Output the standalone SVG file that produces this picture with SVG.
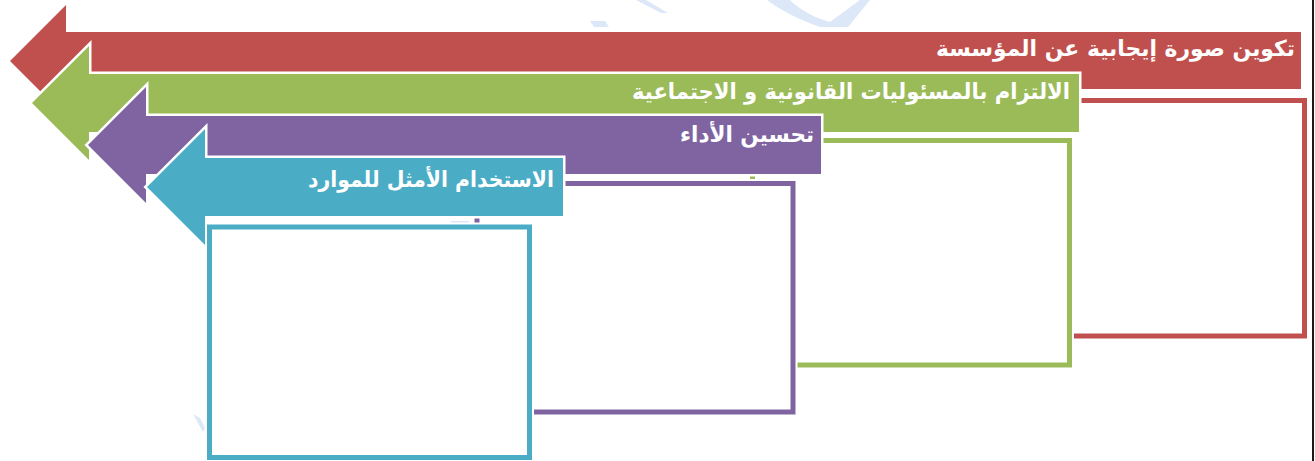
<svg xmlns="http://www.w3.org/2000/svg" width="1315" height="461" viewBox="0 0 1315 461">
<style>
.halo{fill:none;stroke:#ffffff;stroke-width:5;stroke-linejoin:miter}
.boxhalo{fill:#ffffff;stroke:#ffffff;stroke-width:9}
.box{fill:#ffffff;stroke-width:5}
.lbl{font-family:"DejaVu Sans","Noto Sans",sans-serif;font-weight:bold;font-size:22px;fill:#ffffff;text-anchor:end}
.wm{fill:#dce8f7}
</style>
<rect x="0" y="0" width="1315" height="461" fill="#ffffff"/>
<g id="watermark">
<polygon class="wm" points="590,21 605,21 609,27 594,27"/>
<polygon class="wm" points="636,0 646,0 668,13 661,13"/>
<path class="wm" d="M767,0 L790,0 C800,10 815,18 830,22 L860,0 L870,0 L848,27 L820,27 C800,20 780,10 767,0 Z"/>
<polygon class="wm" points="193,414 200,418 205,428 203,432"/>
<rect class="wm" x="451" y="221" width="18" height="3"/>
</g>
<g id="node-red">
<polygon class="halo" points="10,61 66,5 66,32 1301,32 1301,89 66,89 66,117"/>
<polygon fill="#C0504D" points="10,61 66,5 66,32 1301,32 1301,89 66,89 66,117"/>
<rect class="boxhalo" x="800" y="100.5" width="504.5" height="235.5"/>
<rect class="box" stroke="#C0504D" x="800" y="100.5" width="504.5" height="235.5"/>
<text class="lbl" x="1295" y="56" textLength="359" lengthAdjust="spacingAndGlyphs">تكوين صورة إيجابية عن المؤسسة</text>
</g>
<g id="node-green">
<polygon class="halo" points="32,103 89,46 89,74 1079,74 1079,132 89,132 89,160"/>
<polygon fill="#9BBB59" points="32,103 89,46 89,74 1079,74 1079,132 89,132 89,160"/>
<rect class="boxhalo" x="752.5" y="140.5" width="317" height="224.5"/>
<rect class="box" stroke="#9BBB59" x="752.5" y="140.5" width="317" height="224.5"/>
<text class="lbl" x="1070" y="99" textLength="438" lengthAdjust="spacingAndGlyphs">الالتزام بالمسئوليات القانونية و الاجتماعية</text>
</g>
<g id="node-purple">
<polygon class="halo" points="88,145 146,87 146,116 821,116 821,174 146,174 146,203"/>
<polygon fill="#8064A2" points="88,145 146,87 146,116 821,116 821,174 146,174 146,203"/>
<rect class="boxhalo" x="477" y="183.5" width="316" height="228.5"/>
<rect class="box" stroke="#8064A2" x="477" y="183.5" width="316" height="228.5"/>
<text class="lbl" x="814" y="142" textLength="134" lengthAdjust="spacingAndGlyphs">تحسين الأداء</text>
</g>
<g id="node-blue">
<polygon class="halo" points="147,187 205,129 205,158 563,158 563,216 205,216 205,245"/>
<polygon fill="#4BACC6" points="147,187 205,129 205,158 563,158 563,216 205,216 205,245"/>
<rect class="boxhalo" x="209.5" y="227" width="320" height="230.5"/>
<rect class="box" stroke="#4BACC6" x="209.5" y="227" width="320" height="230.5"/>
<text class="lbl" x="554" y="187" textLength="246" lengthAdjust="spacingAndGlyphs">الاستخدام الأمثل للموارد</text>
</g>
<g id="connectors"></g>
<rect x="1312" y="0" width="2" height="461" fill="#1a1a1a"/>
</svg>
